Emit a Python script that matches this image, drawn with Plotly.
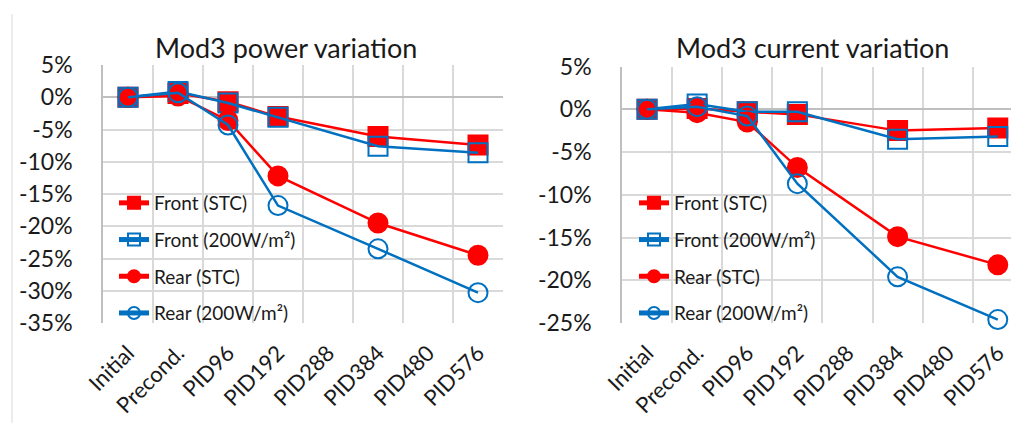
import plotly.graph_objects as go

W, H = 1011, 423

categories = ["Initial", "Precond.", "PID96", "PID192", "PID288", "PID384", "PID480", "PID576"]
x_meas = ["Initial", "Precond.", "PID96", "PID192", "PID384", "PID576"]

series_names = ["Front (STC)", "Front (200W/m²)", "Rear (STC)", "Rear (200W/m²)"]

power_front_stc = [0, 0.6, -0.7, -3.0, -6.1, -7.4]
power_front_200 = [0, 0.9, -0.9, -3.1, -7.6, -8.6]
power_rear_stc = [0, 0.2, -3.6, -12.2, -19.5, -24.5]
power_rear_200 = [0, 0.7, -4.3, -16.8, -23.5, -30.3]

current_front_stc = [0, 0.1, -0.3, -0.6, -2.5, -2.2]
current_front_200 = [0, 0.6, -0.3, -0.3, -3.5, -3.2]
current_rear_stc = [0, -0.4, -1.5, -6.8, -14.9, -18.2]
current_rear_200 = [0, 0.3, -0.8, -8.7, -19.6, -24.6]

power_ticks = [5, 0, -5, -10, -15, -20, -25, -30, -35]
power_ticktext = ["5%", "0%", "-5%", "-10%", "-15%", "-20%", "-25%", "-30%", "-35%"]
current_ticks = [5, 0, -5, -10, -15, -20, -25]
current_ticktext = ["5%", "0%", "-5%", "-10%", "-15%", "-20%", "-25%"]

titles = ["Mod3 power variation", "Mod3 current variation"]

RED = "#FF0000"
BLUE = "#0070C0"
FONT = "Lato"
TXT = "#1a1a1a"

styles = [
    dict(color=RED, symbol="square"),
    dict(color=BLUE, symbol="square-open"),
    dict(color=RED, symbol="circle"),
    dict(color=BLUE, symbol="circle-open"),
]

fig = go.Figure()

def add_panel(data, xaxis, yaxis, legend):
    for i, (vals, st) in enumerate(zip(data, styles)):
        fig.add_trace(go.Scatter(
            x=x_meas, y=vals, name=series_names[i],
            mode="lines+markers",
            line=dict(color=st["color"], width=2.5),
            marker=dict(symbol=st["symbol"], size=19, color=st["color"],
                        line=dict(color=st["color"], width=2)),
            xaxis=xaxis, yaxis=yaxis, legend=legend,
            legendgroup=legend + str(i), cliponaxis=False,
        ))

add_panel([power_front_stc, power_front_200, power_rear_stc, power_rear_200], "x", "y", "legend")
add_panel([current_front_stc, current_front_200, current_rear_stc, current_rear_200], "x2", "y2", "legend2")

def px_x(v):
    return v / W

def px_y(v):
    return 1 - v / H

grid = "#D9D9D9"
axis_common = dict(
    type="category", categoryorder="array", categoryarray=categories,
    tickson="boundaries", showgrid=True, gridcolor=grid, gridwidth=1.5,
    tickangle=-45, tickfont=dict(family=FONT, size=22, color=TXT),
    ticks="", showline=False, zeroline=False, ticklabelstandoff=12,
    automargin=False,
)
yaxis_common = dict(
    showgrid=True, gridcolor=grid, gridwidth=1.5,
    zeroline=True, zerolinecolor="#BFBFBF", zerolinewidth=1.5,
    showline=True, linecolor="#BFBFBF", linewidth=1.5,
    ticks="", ticklabelstandoff=24, automargin=False,
    tickfont=dict(family=FONT, size=23, color=TXT),
)

legend_common = dict(
    xanchor="left", yanchor="top", bgcolor="rgba(0,0,0,0)",
    tracegroupgap=9, borderwidth=0, itemsizing="constant",
    font=dict(family=FONT, size=19, color=TXT), itemwidth=30,
)

fig.update_layout(
    template="none",
    width=W, height=H,
    margin=dict(l=0, r=0, t=0, b=0, autoexpand=False),
    paper_bgcolor="white", plot_bgcolor="white",
    showlegend=True,
    xaxis=dict(domain=[px_x(103), px_x(503)], range=[-0.5, 7.5], anchor="y", **axis_common),
    xaxis2=dict(domain=[px_x(622), 1.0], range=[-0.5, 7.264], anchor="y2", **axis_common),
    yaxis=dict(domain=[px_y(323), px_y(65)], range=[-35, 5], anchor="x",
               tickvals=power_ticks, ticktext=power_ticktext, **yaxis_common),
    yaxis2=dict(domain=[px_y(323), px_y(66.5)], range=[-25, 5], anchor="x2",
                tickvals=current_ticks, ticktext=current_ticktext, **yaxis_common),
    legend=dict(x=px_x(114), y=px_y(184), **legend_common),
    legend2=dict(x=px_x(634), y=px_y(184), **legend_common),
    annotations=[
        dict(text=titles[0], x=px_x(286), y=px_y(47), xref="paper", yref="paper",
             showarrow=False, xanchor="center", yanchor="middle",
             font=dict(family=FONT, size=27, color=TXT)),
        dict(text=titles[1], x=px_x(812), y=px_y(47), xref="paper", yref="paper",
             showarrow=False, xanchor="center", yanchor="middle",
             font=dict(family=FONT, size=27, color=TXT)),
    ],
    shapes=[
        dict(type="line", xref="paper", yref="paper", x0=px_x(12), x1=px_x(12),
             y0=px_y(14), y1=0, line=dict(color="#D9D9D9", width=1)),
    ],
)

fig.write_html(
    "out.html",
    config={"displayModeBar": False},
    post_script="document.body.style.margin='0';document.body.style.overflow='hidden';",
)
